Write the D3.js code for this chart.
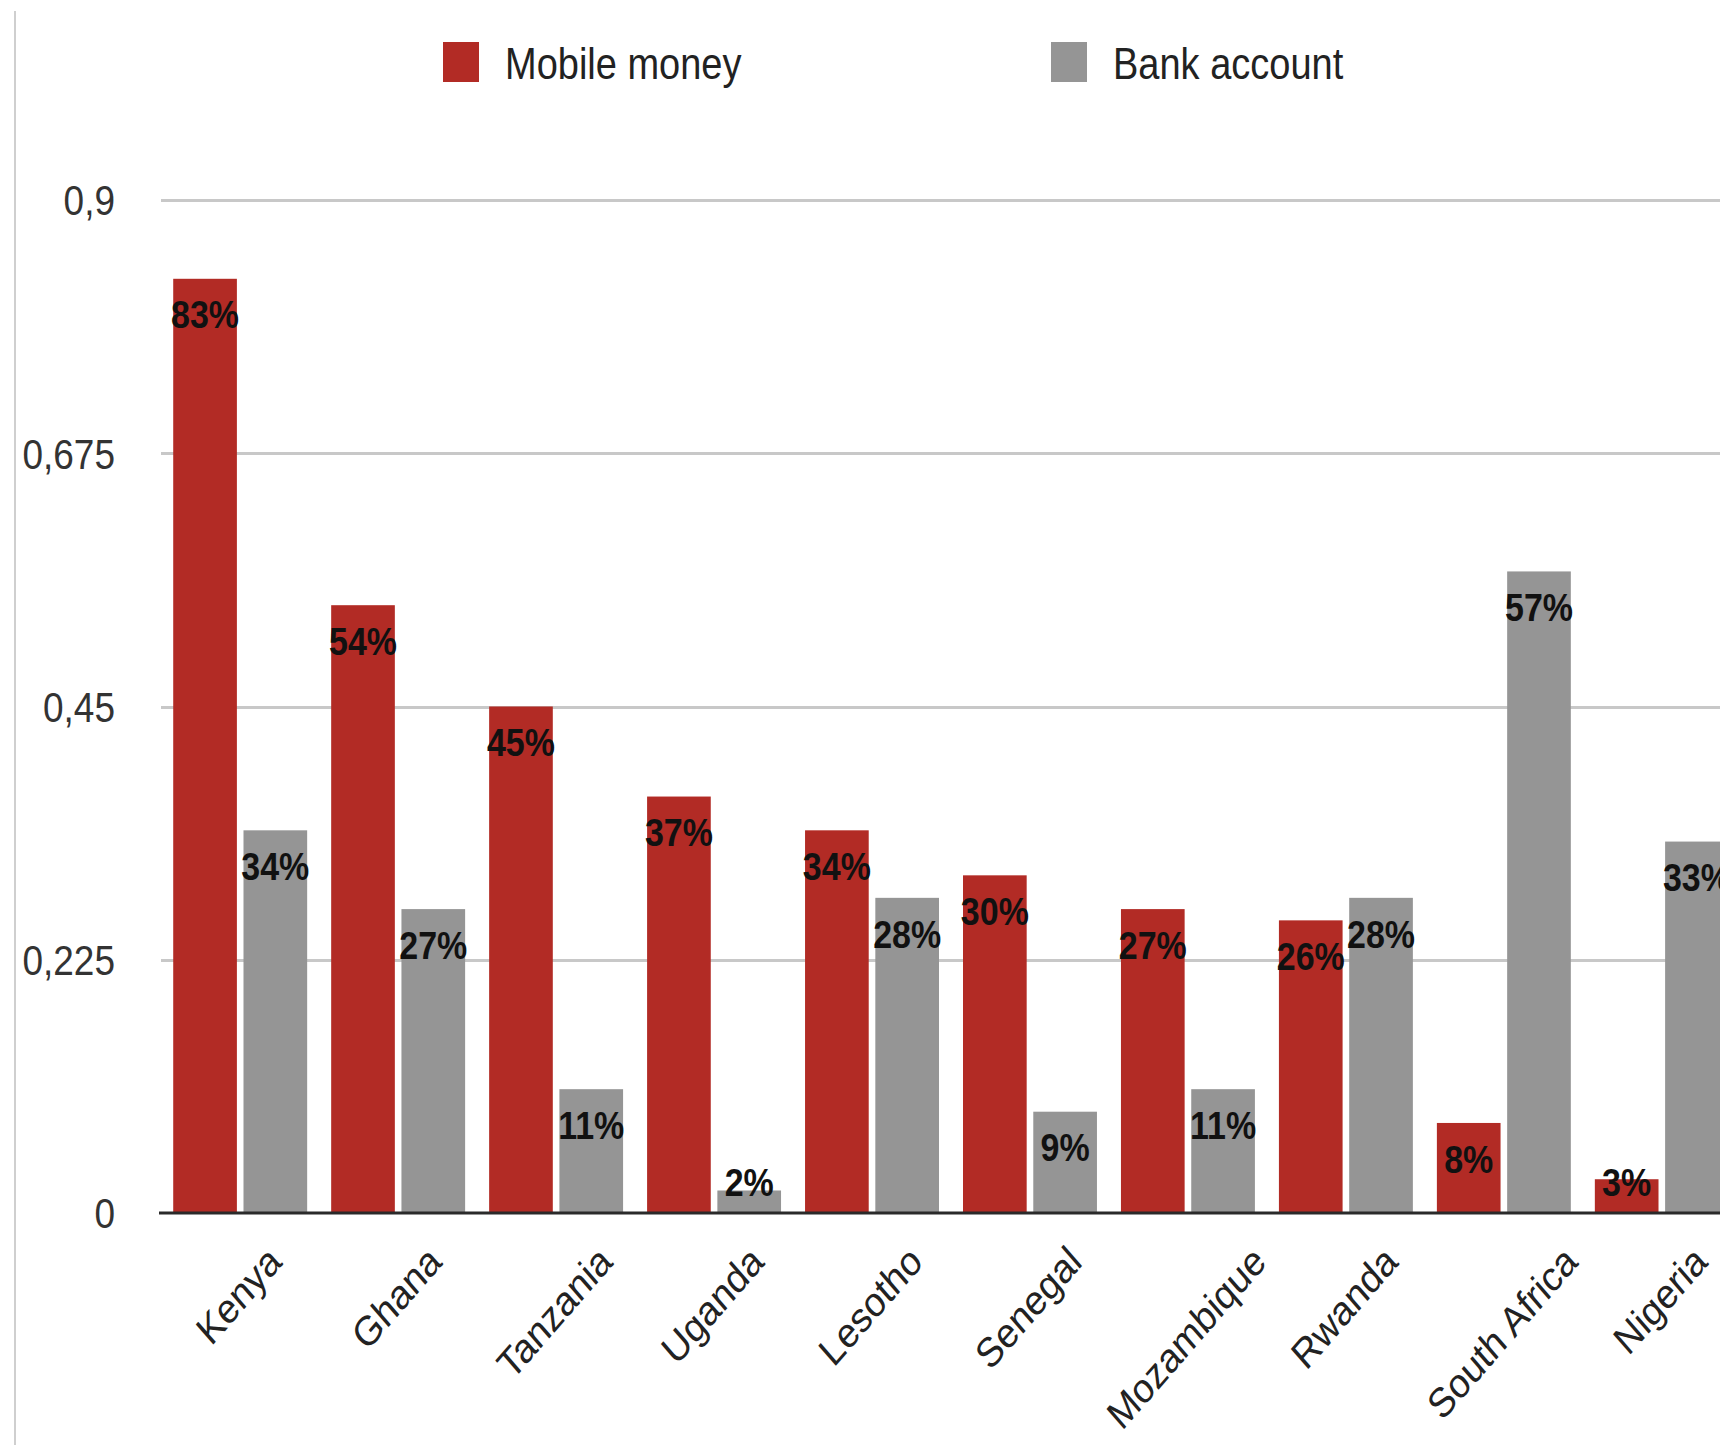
<!DOCTYPE html>
<meta charset="utf-8">
<style>
body {
  margin: 0;
  background-color: #fff;
}
text {
  font-family: "Liberation Sans", Arial, sans-serif;
}
.grid line {
  stroke: #c8c8c8;
  stroke-width: 3px;
  shape-rendering: crispEdges;
}
.grid path { display: none; }
.grid text { font-size: 37px; fill: #333; }
.val { font-size: 34px; font-weight: bold; fill: #111; }
.cat { font-size: 36px; fill: #222; }
.leg { font-size: 38px; fill: #222; }
</style>
<svg width="1720" height="1445"></svg>
<script src="https://d3js.org/d3.v7.min.js"></script>
<script>
// data
var countries = ["Kenya", "Ghana", "Tanzania", "Uganda", "Lesotho", "Senegal", "Mozambique", "Rwanda", "South Africa", "Nigeria"];
var mobileMoney = [0.83, 0.54, 0.45, 0.37, 0.34, 0.30, 0.27, 0.26, 0.08, 0.03];
var bankAccount = [0.34, 0.27, 0.11, 0.02, 0.28, 0.09, 0.11, 0.28, 0.57, 0.33];
var seriesNames = ["Mobile money", "Bank account"];
var yTicks = [0, 0.225, 0.45, 0.675, 0.9];

var K = 1.15; // the original picture is a little stretched vertically

var svg = d3.select("svg"),
    W = +svg.attr("width");

var left = 159, baseY = 1213, topY = 200;

var x0 = d3.scaleBand().domain(countries).range([left, 1743]).paddingInner(0.152).paddingOuter(0.09);
var x1 = d3.scaleBand().domain(seriesNames).range([0, x0.bandwidth()]).paddingInner(0.094);
var y = d3.scaleLinear().domain([0, 0.9]).range([baseY, topY]);
var color = {"Mobile money": "#b22b25", "Bank account": "#959595"};

var loc = d3.formatLocale({decimal: ",", thousands: ".", grouping: [3], currency: ["", ""]});
var fmt = loc.format("~g");

// left border line
svg.append("line")
  .attr("x1", 15).attr("x2", 15).attr("y1", 11).attr("y2", 1445)
  .attr("stroke", "#cfcfcf").attr("stroke-width", 2);

// gridlines + y labels
var grid = svg.append("g")
  .attr("class", "grid")
  .attr("transform", "translate(161,0)")
  .call(d3.axisLeft(y).tickValues(yTicks).tickFormat(fmt).tickSizeInner(-(W - 161)).tickSizeOuter(0));
grid.selectAll("text")
  .attr("x", null).attr("dy", null)
  .attr("transform", "translate(-46,0) scale(1," + K + ")")
  .attr("dy", "0.35em");
grid.selectAll(".tick").filter(function(d) { return d === 0; }).select("line").remove();

var rows = countries.map(function(c, i) {
  return {country: c, values: [
    {key: seriesNames[0], v: mobileMoney[i]},
    {key: seriesNames[1], v: bankAccount[i]}
  ]};
});

var groups = svg.selectAll(".group")
  .data(rows)
  .enter().append("g")
  .attr("class", "group")
  .attr("transform", function(d) { return "translate(" + x0(d.country) + ",0)"; });

groups.selectAll("rect")
  .data(function(d) { return d.values; })
  .enter().append("rect")
  .attr("x", function(d) { return x1(d.key); })
  .attr("width", x1.bandwidth())
  .attr("y", function(d) { return y(d.v); })
  .attr("height", function(d) { return baseY - y(d.v); })
  .attr("fill", function(d) { return color[d.key]; });

groups.selectAll(".val")
  .data(function(d) { return d.values; })
  .enter().append("text")
  .attr("class", "val")
  .attr("text-anchor", "middle")
  .attr("dy", "0.35em")
  .attr("transform", function(d) {
    var cy = Math.min(y(d.v) + 36, baseY - 31);
    return "translate(" + (x1(d.key) + x1.bandwidth() / 2) + "," + cy + ") scale(1," + K + ")";
  })
  .text(function(d) { return Math.round(d.v * 100) + "%"; });

// baseline
svg.append("line")
  .attr("x1", left).attr("x2", W).attr("y1", baseY).attr("y2", baseY)
  .attr("stroke", "#2a2a2a").attr("stroke-width", 3);

// category labels, centred under each group, rotated
svg.selectAll(".cat")
  .data(countries)
  .enter().append("text")
  .attr("class", "cat")
  .attr("text-anchor", "end")
  .text(function(d) { return d; })
  .attr("transform", function(d) {
    var L = this.getComputedTextLength();
    var ex = x0(d) + x0.bandwidth() / 2 + L * 0.3536 + 7;
    return "translate(" + ex + ",1264) scale(1," + K + ") rotate(-45)";
  });

// legend
var legX = [443, 1051];
var leg = svg.selectAll(".legend")
  .data(seriesNames)
  .enter().append("g")
  .attr("class", "legend")
  .attr("transform", function(d, i) { return "translate(" + legX[i] + ",0)"; });
leg.append("rect")
  .attr("x", 0).attr("y", 42).attr("width", 36).attr("height", 40)
  .attr("fill", function(d) { return color[d]; });
leg.append("text")
  .attr("class", "leg")
  .attr("dy", "0.35em")
  .attr("transform", "translate(62,64) scale(1," + K + ")")
  .text(function(d) { return d; });
</script>
